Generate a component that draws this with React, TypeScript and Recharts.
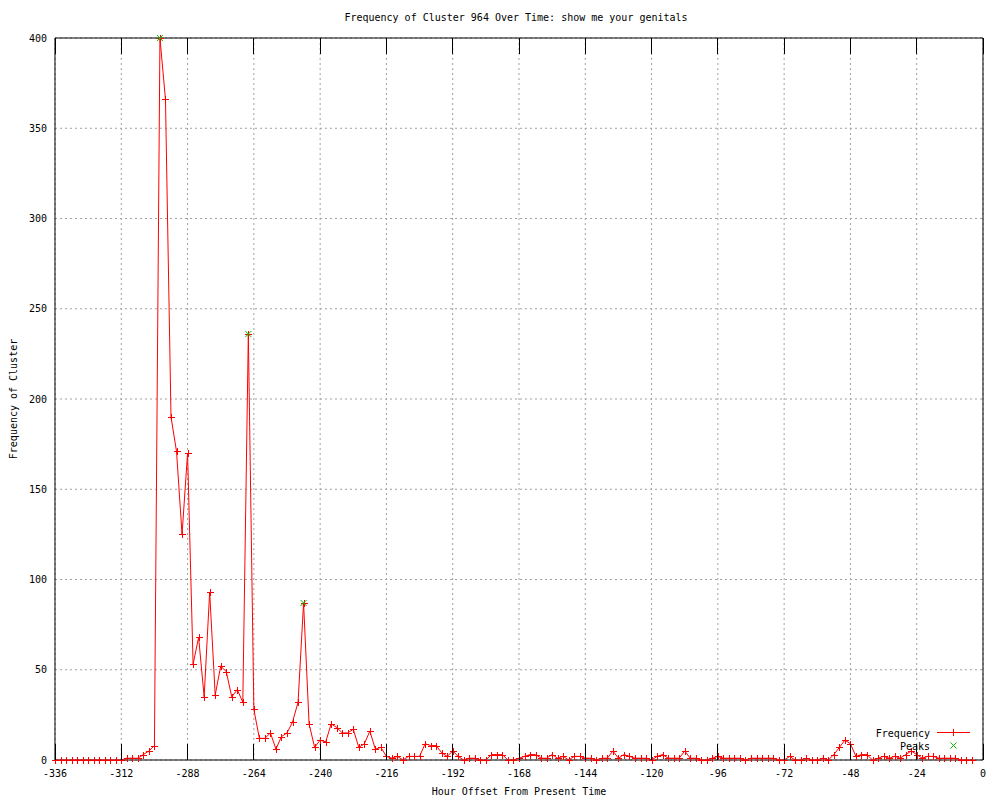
import { CartesianGrid, Line, LineChart, ReferenceArea, XAxis, YAxis } from "recharts";

// hourly buckets, one every 2 hours from -336 to -4
const START_HOUR = -336;
const STEP_HOURS = 2;

const frequency = [
  0, 0, 0, 0, 0, 0, 0, 0, 0, 0, 0, 0,
  0, 1, 1, 1, 3, 5, 8, 400, 366, 190, 171, 125,
  170, 53, 68, 35, 93, 36, 52, 49, 35, 39, 32, 236,
  28, 12, 12, 15, 6, 13, 15, 21, 32, 87, 20, 7,
  11, 10, 20, 18, 15, 15, 17, 7, 9, 16, 6, 7,
  2, 1, 2, 0, 2, 2, 2, 9, 8, 8, 4, 2,
  5, 2, 0, 1, 1, 0, 0, 3, 3, 3, 0, 0,
  1, 2, 3, 3, 1, 1, 3, 1, 2, 0, 2, 2,
  1, 1, 0, 1, 1, 5, 1, 3, 2, 1, 1, 1,
  0, 2, 3, 1, 1, 1, 5, 1, 1, 0, 0, 1,
  2, 1, 1, 1, 1, 0, 1, 1, 1, 1, 1, 0,
  0, 2, 0, 0, 1, 0, 0, 1, 0, 3, 7, 11,
  9, 2, 3, 3, 0, 1, 2, 1, 2, 1, 3, 5,
  3, 1, 2, 2, 1, 1, 1, 1, 0, 0, 0,
];

const peakHours = [-298, -266, -246];
const peakValues = [400, 236, 87];

const xTicks = [-336, -312, -288, -264, -240, -216, -192, -168, -144, -120, -96, -72, -48, -24, 0];
const yTicks = [0, 50, 100, 150, 200, 250, 300, 350, 400];

const data = frequency.map((value, i) => {
  const hour = START_HOUR + i * STEP_HOURS;
  const p = peakHours.indexOf(hour);
  return { hour, frequency: value, peak: p >= 0 ? peakValues[p] : null };
});

const FONT = "'DejaVu Sans Mono', monospace";
const PLOT_TOP = 38;
const RED = "#ff0000";
const GREEN = "#00c000";

const plusPath = (cx: number, cy: number, r: number) =>
  `M${cx - r},${cy}H${cx + r}M${cx},${cy - r}V${cy + r}`;
const crossPath = (cx: number, cy: number, r: number) =>
  `M${cx - r},${cy - r}L${cx + r},${cy + r}M${cx - r},${cy + r}L${cx + r},${cy - r}`;

const PlusDot = (props: any) => {
  const { cx, cy, index } = props;
  if (cx == null || cy == null) return <g key={`f${index}`} />;
  const x = Math.round(cx) + 0.5;
  const y = Math.round(cy) + 0.5;
  return <path key={`f${index}`} d={plusPath(x, y, 3.5)} stroke={RED} fill="none" shapeRendering="crispEdges" />;
};

const CrossDot = (props: any) => {
  const { cx, cy, index, value } = props;
  if (cx == null || cy == null || value == null) return <g key={`p${index}`} />;
  return <path key={`p${index}`} d={crossPath(cx, cy, 3)} stroke={GREEN} fill="none" />;
};

const XTick = ({ x, y, payload }: any) => (
  <g>
    <line x1={x} y1={y} x2={x} y2={y - 16} stroke="#000" shapeRendering="crispEdges" />
    <line x1={x} y1={PLOT_TOP} x2={x} y2={PLOT_TOP + 16} stroke="#000" shapeRendering="crispEdges" />
    <text x={x} y={y + 17} textAnchor="middle" fontSize={10} fontFamily={FONT} fill="#000">
      {payload.value}
    </text>
  </g>
);

const LegendBox = () => (
  <svg width={125} height={30} style={{ position: "absolute", left: 860, top: 724 }}>
    <text x={70} y={13} textAnchor="end" fontSize={10} fontFamily={FONT} fill="#000">Frequency</text>
    <line x1={77} y1={8.5} x2={110} y2={8.5} stroke={RED} />
    <path d={plusPath(93.5, 8.5, 3.5)} stroke={RED} fill="none" />
    <text x={70} y={26} textAnchor="end" fontSize={10} fontFamily={FONT} fill="#000">Peaks</text>
    <path d={crossPath(93.5, 21.5, 3)} stroke={GREEN} fill="none" />
  </svg>
);

export default function App() {
  return (
    <div style={{ position: "absolute", left: 0, top: 0, width: 1000, height: 800, background: "#fff" }}>
      <div
        style={{
          position: "absolute",
          left: 516,
          top: 12,
          transform: "translateX(-50%)",
          fontFamily: FONT,
          fontSize: 10,
          whiteSpace: "nowrap",
          lineHeight: "12px",
        }}
      >
        Frequency of Cluster 964 Over Time: show me your genitals
      </div>
      <LineChart width={1000} height={800} data={data} margin={{ top: PLOT_TOP, right: 17, bottom: 0, left: 0 }}>
        <CartesianGrid stroke="#a0a0a0" strokeDasharray="2 3" />
        <XAxis
          dataKey="hour"
          type="number"
          domain={[-336, 0]}
          ticks={xTicks}
          height={40}
          tickSize={0}
          tickMargin={0}
          axisLine={false}
          tickLine={false}
          tick={<XTick />}
          label={{ value: "Hour Offset From Present Time", position: "insideBottom", offset: 5, fontSize: 10, fontFamily: FONT, fill: "#000" }}
        />
        <YAxis
          type="number"
          domain={[0, 400]}
          ticks={yTicks}
          width={55}
          tickSize={0}
          tickMargin={8}
          axisLine={false}
          tickLine={false}
          tick={{ fontSize: 10, fontFamily: FONT, fill: "#000" }}
          label={{
            value: "Frequency of Cluster",
            angle: -90,
            position: "insideLeft",
            offset: 13,
            style: { textAnchor: "middle", fontSize: 10, fontFamily: FONT, fill: "#000" },
          }}
        />
        <ReferenceArea x1={-336} x2={0} y1={0} y2={400} fill="none" stroke="#000" strokeWidth={1} />
        <Line
          dataKey="frequency"
          type="linear"
          stroke={RED}
          strokeWidth={1}
          dot={PlusDot}
          activeDot={false}
          isAnimationActive={false}
        />
        <Line
          dataKey="peak"
          type="linear"
          stroke="none"
          dot={CrossDot}
          activeDot={false}
          connectNulls={false}
          isAnimationActive={false}
        />
      </LineChart>
      <LegendBox />
    </div>
  );
}
